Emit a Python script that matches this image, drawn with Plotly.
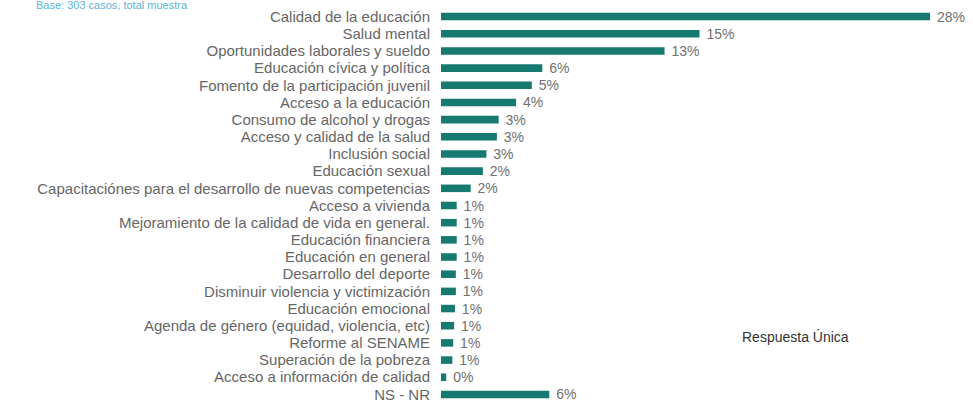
import plotly.graph_objects as go

categories = [
    "Calidad de la educación",
    "Salud mental",
    "Oportunidades laborales y sueldo",
    "Educación cívica y política",
    "Fomento de la participación juvenil",
    "Acceso a la educación",
    "Consumo de alcohol y drogas",
    "Acceso y calidad de la salud",
    "Inclusión social",
    "Educación sexual",
    "Capacitaciónes para el desarrollo de nuevas competencias",
    "Acceso a vivienda",
    "Mejoramiento de la calidad de vida en general.",
    "Educación financiera",
    "Educación en general",
    "Desarrollo del deporte",
    "Disminuir violencia y victimización",
    "Educación emocional",
    "Agenda de género (equidad, violencia, etc)",
    "Reforme al SENAME",
    "Superación de la pobreza",
    "Acceso a información de calidad",
    "NS - NR",
]
values = [28.0, 14.8, 12.8, 5.8, 5.2, 4.3, 3.3, 3.2, 2.6, 2.4, 1.7,
          0.9, 0.9, 0.9, 0.9, 0.85, 0.85, 0.8, 0.75, 0.7, 0.65, 0.3, 6.2]

bar_color = "#177a70"

fig = go.Figure(go.Bar(
    x=values,
    y=categories,
    orientation="h",
    marker=dict(color=bar_color, line=dict(width=0)),
    width=0.44,
    texttemplate="\u00a0%{x:.0f}%",
    textposition="outside",
    constraintext="none",
    textfont=dict(family="Liberation Sans, Arial, sans-serif", size=14, color="#707070"),
    cliponaxis=False,
))

fig.update_layout(
    width=973,
    height=405,
    margin=dict(l=441, r=8, t=8, b=2),
    paper_bgcolor="white",
    plot_bgcolor="white",
    showlegend=False,
    font=dict(family="Liberation Sans, Arial, sans-serif", size=15, color="#666666"),
    xaxis=dict(range=[0, 30], visible=False, showgrid=False, zeroline=False),
    yaxis=dict(
        categoryorder="array",
        categoryarray=categories,
        autorange="reversed",
        tickmode="array",
        tickvals=categories,
        ticktext=categories,
        showgrid=False,
        zeroline=False,
        showline=False,
        ticks="",
        ticklabelstandoff=10,
        tickfont=dict(size=15, color="#666666"),
    ),
    annotations=[
        dict(
            text="Base: 303 casos, total muestra",
            xref="paper", yref="paper",
            x=(190 - 441) / 524, y=1 + 3 / 395,
            xanchor="right", yanchor="middle",
            showarrow=False,
            font=dict(size=11, color="#5ab4d8"),
        ),
        dict(
            text="Respuesta Única",
            xref="paper", yref="paper",
            x=(795 - 441) / 524, y=1 - (337 - 8) / 395,
            xanchor="center", yanchor="middle",
            showarrow=False,
            font=dict(size=14, color="#333333"),
        ),
    ],
)

fig.write_html("out.html")
